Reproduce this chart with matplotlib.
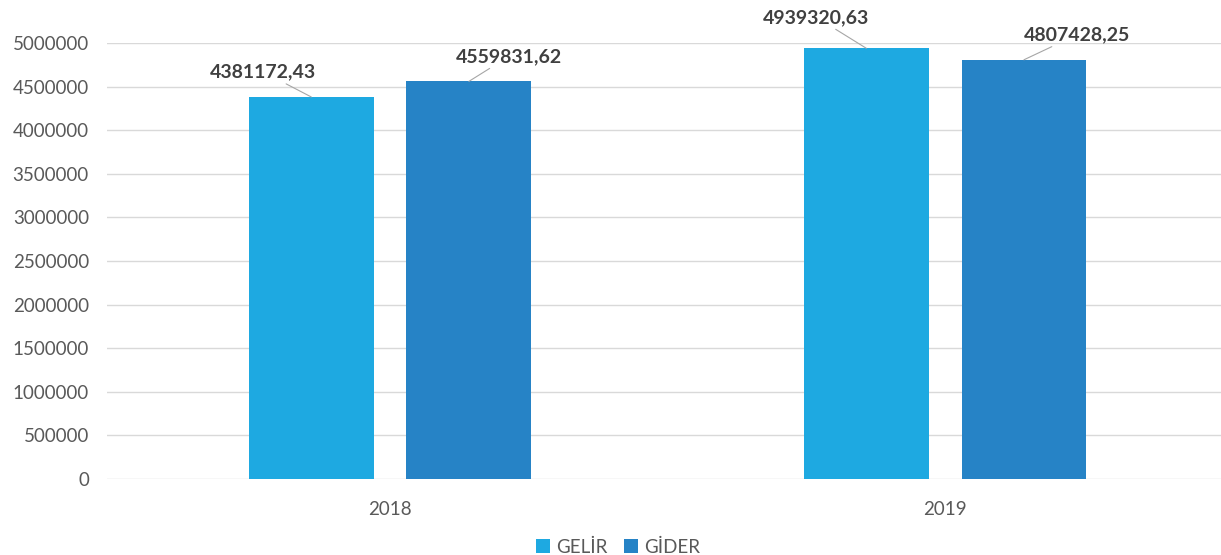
import matplotlib
matplotlib.use("Agg")
import matplotlib.pyplot as plt
import numpy as np

years = ["2018", "2019"]
series_names = ["GELİR", "GİDER"]
gelir = [4381172.43, 4939320.63]
gider = [4559831.62, 4807428.25]
labels_gelir = ["4381172,43", "4939320,63"]
labels_gider = ["4559831,62", "4807428,25"]
yticks = [0, 500000, 1000000, 1500000, 2000000, 2500000, 3000000, 3500000, 4000000, 4500000, 5000000]

colors = ["#1EA9E1", "#2683C6"]
FONT = "Lato"
W, H = 1221, 555
fig = plt.figure(figsize=(W/100, H/100), dpi=100)
ax = fig.add_axes([107/W, 1-479/H, (1221-107)/W, (479-43)/H])

x = np.arange(len(years))
bw = 0.225
off = 0.142
ax.bar(x - off, gelir, bw, color=colors[0], label=series_names[0], zorder=3)
ax.bar(x + off, gider, bw, color=colors[1], label=series_names[1], zorder=3)

ax.set_xlim(-0.51, 1.497)
ax.set_ylim(0, 5000000)
ax.set_yticks(yticks)
ax.set_yticklabels([str(v) for v in yticks])
ax.set_xticks(x)
ax.set_xticklabels(years)
ax.tick_params(length=0, labelsize=13.5, colors="#595959")
ax.tick_params(axis="y", pad=13)
ax.tick_params(axis="x", pad=16)
for s in ax.spines.values():
    s.set_visible(False)
ax.grid(axis="y", color="#D9D9D9", linewidth=1, zorder=0)
ax.set_axisbelow(True)
for lbl in ax.get_xticklabels() + ax.get_yticklabels():
    lbl.set_fontfamily(FONT)

# data label offsets in pixels (dx right, dy up) from bar top centre
label_offsets_px = {
    (0, 0): (-48, 25),
    (0, 1): (40, 25),
    (1, 0): (-50, 31),
    (1, 1): (53, 25),
}
for si, (vals, labs) in enumerate([(gelir, labels_gelir), (gider, labels_gider)]):
    for ci, (v, t) in enumerate(zip(vals, labs)):
        xc = x[ci] + (-off if si == 0 else off)
        dx, dy = label_offsets_px[(ci, si)]
        ax.annotate(t, xy=(xc, v), xytext=(dx * 0.72, dy * 0.72), textcoords="offset points",
                    ha="center", va="center", fontsize=14, fontweight="bold",
                    color="#404040", family=FONT, annotation_clip=False,
                    arrowprops=dict(arrowstyle="-", color="#A6A6A6", lw=0.8,
                                    shrinkA=1, shrinkB=0))

leg = fig.legend(loc="center", bbox_to_anchor=(618/W, 1-547/H), ncol=2, frameon=False,
                 handlelength=0.75, handleheight=0.75, handletextpad=0.3, columnspacing=0.9,
                 prop={"family": FONT, "size": 13.5})
for t in leg.get_texts():
    t.set_color("#595959")

fig.savefig("out.png", dpi=100)
